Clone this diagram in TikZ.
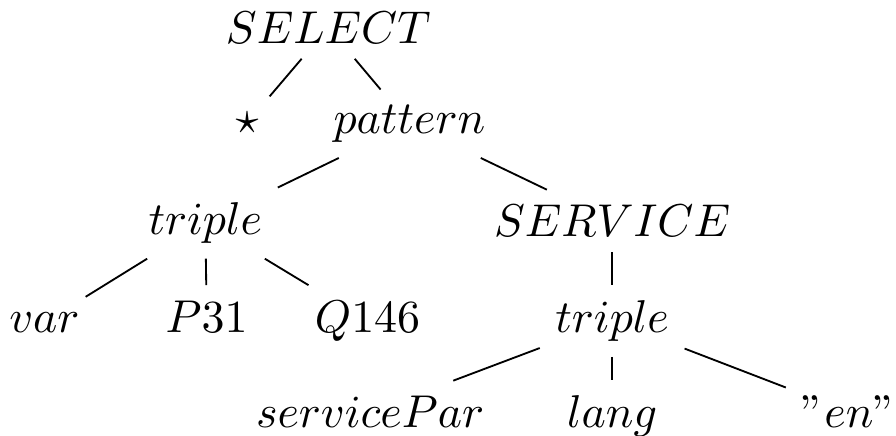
\documentclass[tikz,border=0pt]{standalone}
\usetikzlibrary{positioning}

\begin{document}
\begin{tikzpicture}[
		lbl/.style={anchor=base, inner sep=3.2pt}
		]
		\useasboundingbox (0,0) rectangle (6.85,-3.33);
		\node[lbl] (select) at (2.51,-0.33) {$SELECT$};
		\node[lbl] (star) at (1.89,-1.02) {$\star$};
		\node[lbl] (pattern) at (3.13,-1.02) {$pattern$};
		\node[lbl] (triple1) at (1.57,-1.79) {$triple$};
		\node[lbl] (service) at (4.68,-1.81) {$SERVICE$};
		\node[lbl] (var) at (0.34,-2.54) {$var$};
		\node[lbl] (p31) at (1.58,-2.54) {$P31$};
		\node[lbl] (q146) at (2.81,-2.54) {$Q146$};
		\node[lbl] (triple2) at (4.68,-2.54) {$triple$};
		\node[lbl] (par) at (2.83,-3.27) {$servicePar$};
		\node[lbl] (lang) at (4.68,-3.27) {$lang$};
		\node[lbl] (en) at (6.49,-3.27) {$"en"$};

		\draw (select) -- (star);
		\draw (select) -- (pattern);
		\draw (pattern) -- (triple1);
		\draw (pattern) -- (service);
		\draw (triple1) -- (var);
		\draw (triple1) -- (p31);
		\draw (triple1) -- (q146);
		\draw (service) -- (triple2);
		\draw (triple2) -- (par);
		\draw (triple2) -- (lang);
		\draw (triple2) -- (en);
	\end{tikzpicture}
\end{document}
